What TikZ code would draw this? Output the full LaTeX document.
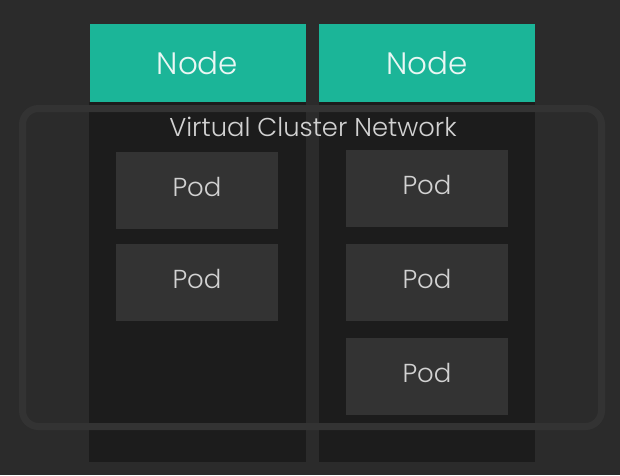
\documentclass[tikz,border=0pt]{standalone}
\usepackage{fontspec}
\setmainfont{Poppins}[UprightFont=* Light]
\definecolor{bg}{HTML}{2B2B2B}
\definecolor{col}{HTML}{1C1C1C}
\definecolor{podfill}{HTML}{333333}
\definecolor{teal}{HTML}{1BB598}
\definecolor{netline}{HTML}{333333}
\definecolor{podtext}{HTML}{D2D2D2}
\definecolor{nodetext}{HTML}{EAF7F4}
\tikzset{
  hostbox/.style={fill=teal, draw=none, minimum width=216pt, minimum height=78pt, inner sep=0pt, font=\fontsize{31}{31}\selectfont, text=nodetext},
  column/.style={fill=col, draw=none},
  podbox/.style={fill=podfill, draw=none, minimum width=162pt, minimum height=77pt, inner sep=0pt, text depth=7pt, font=\fontsize{26}{26}\selectfont, text=podtext},
  netbox/.style={draw=netline, line width=7pt, rounded corners=16pt},
}
\begin{document}
\begin{tikzpicture}[x=1pt,y=-1pt]
\fill[bg] (0,0) rectangle (620,475);
\useasboundingbox (0,0) rectangle (620,475);
% columns
\fill[column] (89,102) rectangle (306,462);
\fill[column] (319,102) rectangle (535,462);
% host nodes
\node[hostbox] (n1) at (197.5,63) {Node};
\node[hostbox] (n2) at (427,63) {Node};
% pods
\node[podbox] (p1) at (197,190) {Pod};
\node[podbox] (p2) at (197,282.5) {Pod};
\node[podbox] (p3) at (427,188.5) {Pod};
\node[podbox] (p4) at (427,282.5) {Pod};
\node[podbox] (p5) at (427,376) {Pod};
% virtual network
\draw[netbox] (22.5,108.5) rectangle (601.5,426.5);
\node[font=\fontsize{25.8}{26}\selectfont, text=podtext, inner sep=0pt] (vcn) at (313,127) {Virtual Cluster Network};
\end{tikzpicture}
\end{document}
